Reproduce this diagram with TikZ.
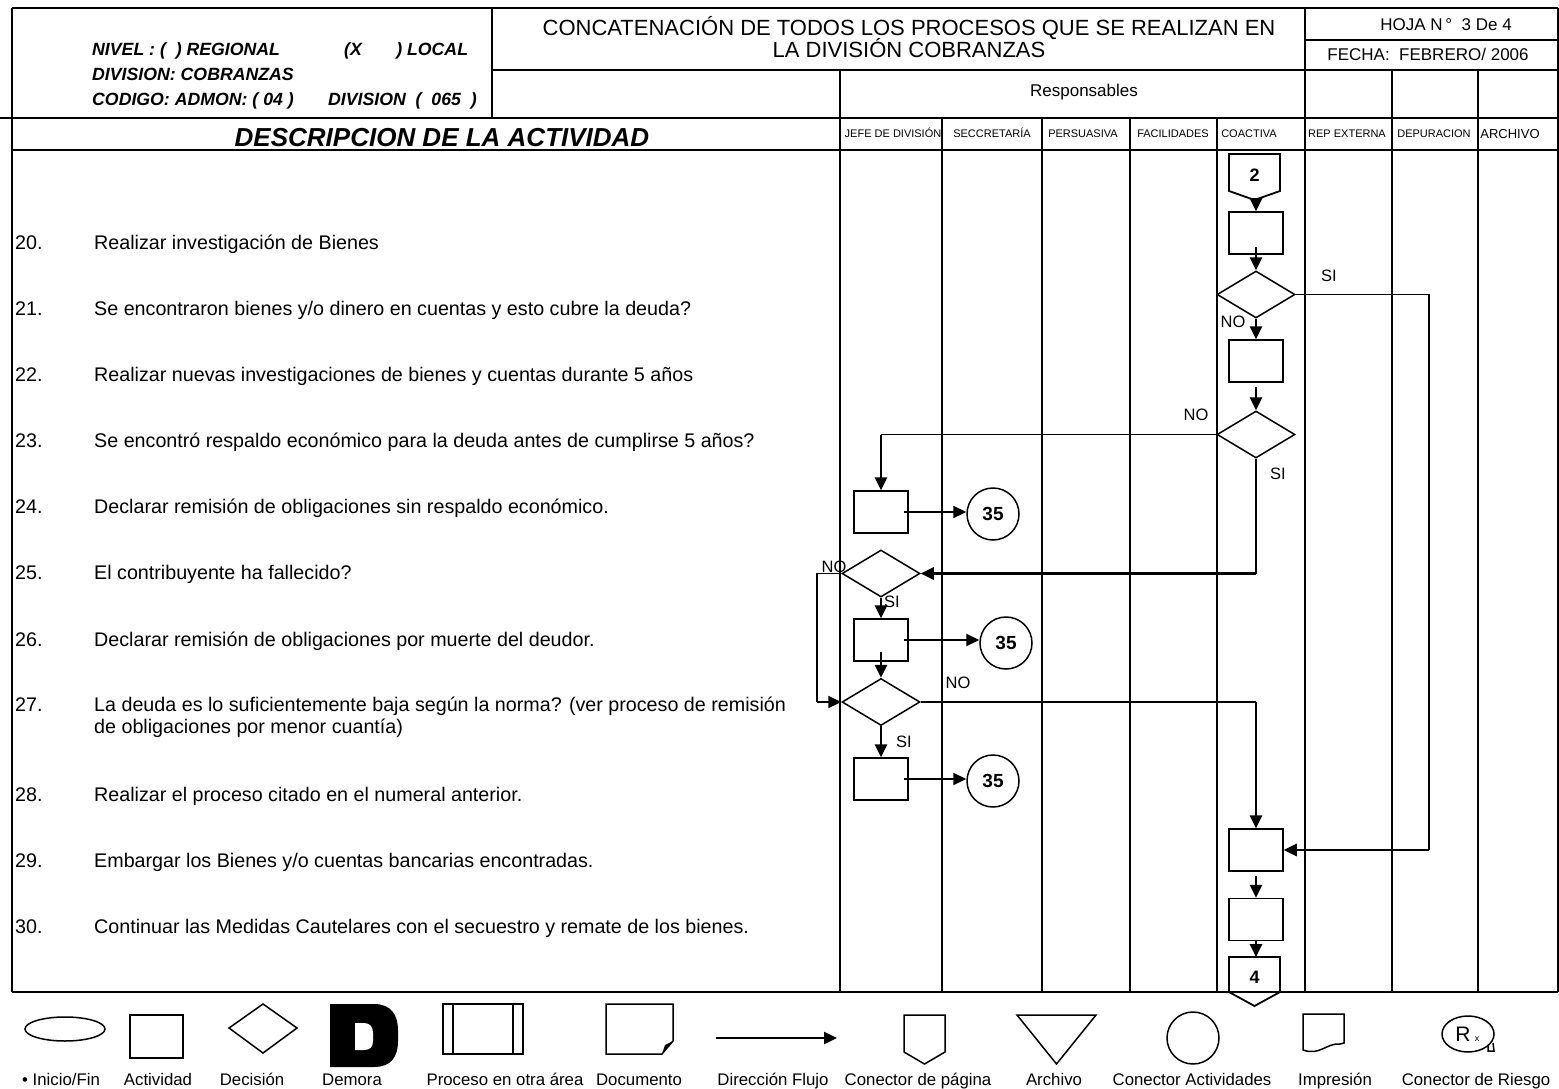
\documentclass[tikz,border=0pt]{standalone}
\usepackage{fontspec}
\setmainfont{Liberation Sans}
\usetikzlibrary{arrows.meta,shapes.geometric}
\begin{document}
\begin{tikzpicture}[x=1pt,y=-1pt,
  tbl/.style={line width=1.8pt},
  tblthick/.style={line width=2.4pt},
  shp/.style={line width=1.5pt},
  actbox/.style={draw,line width=1.5pt,minimum width=54pt,minimum height=42pt,inner sep=0pt},
  decbox/.style={draw,diamond,line width=1.5pt,minimum width=78pt,minimum height=47pt,inner sep=0pt},
  conn/.style={draw,circle,line width=1.5pt,minimum size=52pt,inner sep=0pt,font=\fontsize{19}{19}\selectfont\bfseries},
  arr/.style={line width=2.6pt,-{Triangle[length=13pt,width=12pt]}},
  harr/.style={line width=2.2pt,-{Triangle[length=13pt,width=12pt]}},
  link/.style={line width=1.6pt},
  lbl/.style={font=\fontsize{16.5}{16.5}\selectfont,inner sep=0pt},
  desc/.style={font=\fontsize{19.7}{19.7}\selectfont,anchor=base west,inner sep=0pt},
  colhd/.style={font=\fontsize{11}{11}\selectfont,anchor=base,inner sep=0pt},
  leg/.style={font=\fontsize{16.8}{16.8}\selectfont,anchor=base,inner sep=0pt},
  hdr/.style={font=\fontsize{17.7}{17.7}\selectfont\bfseries\itshape,anchor=base west,inner sep=0pt},
  ttl/.style={font=\fontsize{22}{22}\selectfont,anchor=base,inner sep=0pt},
  sml/.style={font=\fontsize{17}{17}\selectfont,anchor=base,inner sep=0pt},
]
\useasboundingbox (0,0) rectangle (1559,1089);
\fill[white] (0,0) rectangle (1559,1089);

% ---------- table frame ----------
\draw[tbl] (12,8) -- (1558,8);
\draw[tbl] (12,8) -- (12,992);
\draw[tbl] (1558,8) -- (1558,992);
\draw[tbl] (12,992) -- (1558,992);
\draw[tbl] (492,8) -- (492,118);
\draw[tbl] (492,70) -- (1558,70);
\draw[tbl] (1305,40) -- (1558,40);
\draw[tbl] (1305,8) -- (1305,992);
\draw[tbl] (840,70) -- (840,992);
\draw[tbl] (1392,70) -- (1392,992);
\draw[tbl] (1478,70) -- (1478,992);
\draw[tblthick] (0,118) -- (1558,118);
\draw[tblthick] (12,150) -- (1558,150);
\foreach \x in {942,1042,1130,1217} \draw[tbl] (\x,118) -- (\x,992);

% ---------- header texts ----------
\node[hdr] (hniv) at (92,56) {NIVEL : (\ \ ) REGIONAL};
\node[hdr] (hloc) at (344,56) {(X\ \ \ \ \ \ \ ) LOCAL};
\node[hdr] (hdiv) at (92,81) {DIVISION: COBRANZAS};
\node[hdr] (hcod) at (92,106) {CODIGO: ADMON: ( 04 )};
\node[hdr] (hdiv2) at (328,106) {DIVISION \ ( \ 065 \ )};
\node[font=\fontsize{26}{26}\selectfont\bfseries\itshape,anchor=base,inner sep=0pt] (hdesc) at (442,147) {DESCRIPCION DE LA ACTIVIDAD};
\node[ttl] (t1) at (909,36) {CONCATENACIÓN DE TODOS LOS PROCESOS QUE SE REALIZAN EN};
\node[ttl] (t2) at (909,58) {LA DIVISIÓN COBRANZAS};
\node[sml] (hoja) at (1446,31) {HOJA N\,° \ 3 De 4};
\node[sml] (fecha) at (1428,61) {FECHA:\ \ FEBRERO/ 2006};
\node[sml] (resp) at (1084,97) {Responsables};

\node[colhd] (c1) at (893,138) {JEFE DE DIVISIÓN};
\node[colhd] (c2h) at (992,138) {SECCRETARÍA};
\node[colhd] (c3) at (1083,138) {PERSUASIVA};
\node[colhd] (c4) at (1173,138) {FACILIDADES};
\node[colhd] (c5) at (1249,138) {COACTIVA};
\node[colhd] (c6) at (1347,138) {REP EXTERNA};
\node[colhd] (c7) at (1434,138) {DEPURACION};
\node[colhd,font=\fontsize{13}{13}\selectfont] (c8) at (1510,139) {ARCHIVO};

% ---------- descriptions ----------
\foreach \n/\y/\t in {
 20/249/{Realizar investigación de Bienes},
 21/315/{Se encontraron bienes y/o dinero en cuentas y esto cubre la deuda?},
 22/381/{Realizar nuevas investigaciones de bienes y cuentas durante 5 años},
 23/447/{Se encontró respaldo económico para la deuda antes de cumplirse 5 años?},
 24/513/{Declarar remisión de obligaciones sin respaldo económico.},
 25/579/{El contribuyente ha fallecido?},
 26/646/{Declarar remisión de obligaciones por muerte del deudor.},
 27/711/{La deuda es lo suficientemente baja según la norma? (ver proceso de remisión},
 28/801/{Realizar el proceso citado en el numeral anterior.},
 29/867/{Embargar los Bienes y/o cuentas bancarias encontradas.},
 30/933/{Continuar las Medidas Cautelares con el secuestro y remate de los bienes.}}
{
 \node[desc] (n\n) at (15,\y) {\n.};
 \node[desc] (t\n) at (94,\y) {\t};
}
\node[desc] (t27b) at (94,733) {de obligaciones por menor cuantía)};

% ---------- flowchart ----------
\draw[line width=1.8pt] (1229,154) -- (1280,154) -- (1280,191) -- (1254.5,200) -- (1229,191) -- cycle;
\node[font=\fontsize{18}{18}\selectfont\bfseries] (k2) at (1254.5,175) {2};
\coordinate (k2b) at (1256,200);

\node[actbox] (b20) at (1256,233) {};
\node[decbox] (d21) at (1256,294.5) {};
\node[actbox] (b22) at (1256,361) {};
\node[decbox] (d23) at (1256,434.5) {};
\node[actbox] (b24) at (881,512) {};
\node[conn] (k24) at (993,514) {35};
\node[decbox] (d25) at (881,573.5) {};
\node[actbox] (b26) at (881,640) {};
\node[conn] (k26) at (1006,643) {35};
\node[decbox] (d27) at (881,702) {};
\node[actbox] (b28) at (881,779) {};
\node[conn] (k28) at (993,781) {35};
\node[actbox] (b29) at (1256,850) {};
\node[actbox] (b30) at (1256,919.5) {};

\draw[line width=1.8pt] (1229,957) -- (1280,957) -- (1280,992) -- (1254.5,1006) -- (1229,992) -- cycle;
\node[font=\fontsize{18}{18}\selectfont\bfseries] (k4) at (1254.5,977) {4};
\coordinate (k4t) at (1256,957);

% arrows
\draw[arr] (k2b) -- (b20.north);
\draw[arr] ([yshift=8pt]b20.south) -- (d21.north);
\draw[arr] (d21.south) -- (b22.north);
\draw[arr] ([yshift=-4pt]b22.south) -- (d23.north);

\coordinate (j21a) at (1429,294.5);
\coordinate (j21b) at (1429,850);
\draw[link] (d21.east) -- (j21a) -- (j21b);
\draw[arr] (j21b) -- (b29.east);

\coordinate (j23w) at (b24.north |- d23.west);
\draw[link] (d23.west) -- (j23w);
\draw[arr] (j23w) -- (b24.north);

\coordinate (j23s) at (d23.south |- d25.east);
\draw[link] (d23.south) -- (j23s);
\draw[arr] (j23s) -- (d25.east);

\draw[harr] ([xshift=-5pt]b24.east) -- (b24.east -| k24.west);
\draw[arr] (d25.south) -- (b26.north);

\coordinate (j25a) at (817,573.5);
\coordinate (j25b) at (817,702);
\draw[link] (d25.west) -- (j25a) -- (j25b);
\draw[harr] (j25b) -- (d27.west);

\draw[harr] ([xshift=-5pt]b26.east) -- (b26.east -| k26.west);
\draw[arr] ([yshift=10pt]b26.south) -- (d27.north);

\coordinate (j27) at (b29.north |- d27.east);
\draw[link] (d27.east) -- (j27);
\draw[arr] (j27) -- (b29.north);

\draw[arr] (d27.south) -- (b28.north);
\draw[harr] ([xshift=-5pt]b28.east) -- (b28.east -| k28.west);

\draw[arr] ([yshift=-4pt]b29.south) -- (b30.north);
\draw[arr] (b30.south) -- (k4t);

% labels
\node[lbl] (l1) at (1329,276) {SI};
\node[lbl] (l2) at (1233,322) {NO};
\node[lbl] (l3) at (1196,415) {NO};
\node[lbl] (l4) at (1278,474) {SI};
\node[lbl] (l5) at (834,567) {NO};
\node[lbl] (l6) at (892,602) {SI};
\node[lbl] (l7) at (958,683) {NO};
\node[lbl] (l8) at (904,742) {SI};

% ---------- legend ----------
\draw[shp] (65,1029) ellipse [x radius=40, y radius=12];
\draw[shp] (130,1015) rectangle (183,1058);
\draw[shp] (229,1028) -- (263,1004) -- (297,1028) -- (263,1053) -- cycle;
\fill[black] (330,1004) -- (374,1004) .. controls (391,1004) and (398,1015) .. (398,1030) -- (398,1041) .. controls (398,1057) and (391,1067) .. (374,1067) -- (330,1067) -- cycle;
\fill[white] (355,1023) -- (364,1023) .. controls (370,1023) and (373,1027) .. (373,1033) -- (373,1041) .. controls (373,1047) and (370,1050) .. (364,1050) -- (355,1050) -- cycle;
\draw[shp] (443,1004) rectangle (523,1054);
\draw[shp] (453,1004) -- (453,1054);
\draw[shp] (513,1004) -- (513,1054);
\draw[shp] (606,1004) -- (673,1004) -- (673,1041) -- (662,1054) -- (606,1054) -- cycle;
\fill[black] (662,1054) -- (665,1045) -- (673,1041) -- cycle;
\draw[line width=2.4pt,-{Triangle[length=13pt,width=12pt]}] (716,1038) -- (837,1038);
\draw[shp] (904,1015) -- (945,1015) -- (945,1052) -- (924.5,1064) -- (904,1052) -- cycle;
\draw[shp] (1017,1015) -- (1096,1015) -- (1056.5,1064) -- cycle;
\draw[shp] (1193,1038) circle [radius=26];
\draw[shp] (1303,1014) -- (1344,1014) -- (1344,1043) -- (1340,1044) .. controls (1326,1043) and (1320,1056) .. (1303,1050) -- cycle;
\draw[shp] (1468,1034) ellipse [x radius=26, y radius=18];
\draw[shp] (1488,1046) -- (1488,1051) -- (1494,1051) -- (1493,1043);
\node[font=\fontsize{21}{21}\selectfont,inner sep=0pt] (rx) at (1463,1034) {R};
\node[font=\fontsize{9}{9}\selectfont,inner sep=0pt] (rxs) at (1477,1039) {x};

\node[leg] (g1) at (61,1085) {• Inicio/Fin};
\node[leg] (g2) at (158,1085) {Actividad};
\node[leg] (g3) at (252,1085) {Decisión};
\node[leg] (g4) at (352,1085) {Demora};
\node[leg] (g5) at (505,1085) {Proceso en otra área};
\node[leg] (g6) at (639,1085) {Documento};
\node[leg] (g7) at (773,1085) {Dirección Flujo};
\node[leg] (g8) at (918,1085) {Conector de página};
\node[leg] (g9) at (1054,1085) {Archivo};
\node[leg] (g10) at (1192,1085) {Conector Actividades};
\node[leg] (g11) at (1335,1085) {Impresión};
\node[leg] (g12) at (1476,1085) {Conector de Riesgo};
\end{tikzpicture}
\end{document}
